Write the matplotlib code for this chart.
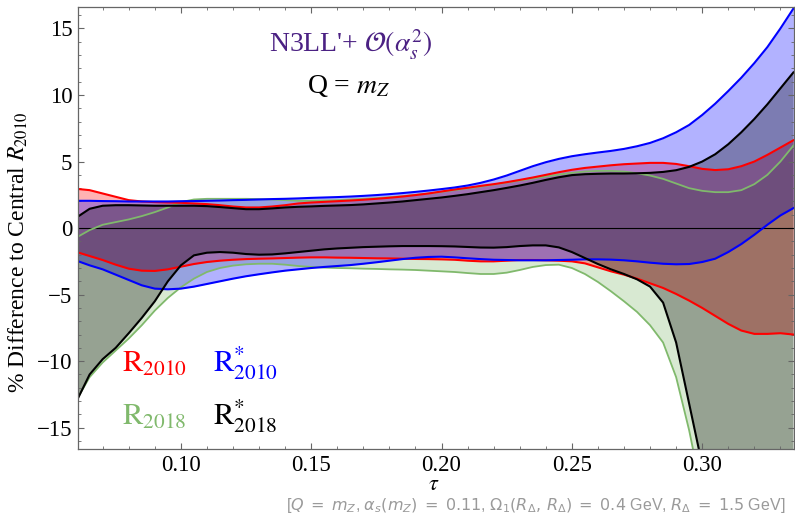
import numpy as np
import matplotlib
matplotlib.use("Agg")
import matplotlib.pyplot as plt
from matplotlib.ticker import MultipleLocator

plt.rcParams['font.family'] = ['Liberation Serif', 'DejaVu Serif']
plt.rcParams['mathtext.fontset'] = 'stix'

# tau grid, step 0.005
tau = np.round(np.arange(0.060, 0.3351, 0.005), 3)

# R2010 band (red)
r2010_hi = [2.95, 2.85, 2.6, 2.35, 2.1, 2.0, 1.95, 1.92, 1.9, 1.85,
            1.8, 1.72, 1.62, 1.55, 1.55, 1.62, 1.72, 1.85, 1.92, 1.97,
            2.02, 2.07, 2.13, 2.2, 2.28, 2.37, 2.48, 2.6, 2.75, 2.9,
            3.03, 3.17, 3.3, 3.45, 3.62, 3.8, 4.0, 4.2, 4.38, 4.52,
            4.62, 4.72, 4.8, 4.85, 4.9, 4.9, 4.82, 4.65, 4.45, 4.36,
            4.42, 4.65, 5.0, 5.5, 6.05, 6.6]
r2010_lo = [-1.8, -2.1, -2.4, -2.75, -3.05, -3.2, -3.22, -3.1, -2.9, -2.7,
            -2.55, -2.45, -2.38, -2.33, -2.3, -2.28, -2.25, -2.22, -2.2, -2.2,
            -2.22, -2.23, -2.25, -2.27, -2.28, -2.3, -2.32, -2.33, -2.35, -2.38,
            -2.45, -2.5, -2.5, -2.45, -2.4, -2.4, -2.42, -2.45, -2.5, -2.65,
            -2.95, -3.25, -3.5, -3.8, -4.15, -4.5, -4.95, -5.45, -6.0, -6.6,
            -7.2, -7.7, -7.95, -7.95, -7.9, -8.0]

# R*2010 band (blue)
rs2010_hi = [2.05, 2.05, 2.03, 2.02, 2.0, 2.0, 2.0, 2.0, 2.02, 2.03,
             2.05, 2.07, 2.1, 2.12, 2.15, 2.18, 2.2, 2.23, 2.27, 2.3,
             2.33, 2.37, 2.42, 2.48, 2.55, 2.63, 2.72, 2.82, 2.93, 3.05,
             3.2, 3.4, 3.65, 3.95, 4.3, 4.65, 4.95, 5.2, 5.4, 5.55,
             5.68, 5.8, 5.95, 6.15, 6.4, 6.75, 7.2, 7.75, 8.5, 9.35,
             10.3, 11.3, 12.4, 13.6, 15.0, 16.5]
rs2010_lo = [-2.45, -2.8, -3.1, -3.5, -3.9, -4.3, -4.55, -4.6, -4.55, -4.4,
             -4.2, -4.0, -3.8, -3.62, -3.47, -3.33, -3.2, -3.1, -3.0, -2.92,
             -2.85, -2.78, -2.68, -2.57, -2.45, -2.33, -2.23, -2.17, -2.15, -2.2,
             -2.27, -2.33, -2.38, -2.4, -2.42, -2.42, -2.42, -2.4, -2.38, -2.35,
             -2.35, -2.37, -2.42, -2.5, -2.6, -2.68, -2.72, -2.7, -2.55, -2.3,
             -1.8, -1.2, -0.5, 0.25, 0.95, 1.5]

# R2018 band (green)
r2018_hi = [-0.7, -0.15, 0.25, 0.45, 0.65, 0.9, 1.2, 1.55, 1.95, 2.15,
            2.2, 2.2, 2.2, 2.2, 2.18, 2.15, 2.1, 2.05, 2.05, 2.07,
            2.1, 2.15, 2.2, 2.25, 2.32, 2.4, 2.5, 2.6, 2.72, 2.85,
            2.98, 3.12, 3.27, 3.42, 3.57, 3.72, 3.88, 4.02, 4.15, 4.25,
            4.3, 4.3, 4.25, 4.12, 3.95, 3.7, 3.35, 3.0, 2.8, 2.7,
            2.7, 2.85, 3.3, 4.0, 5.0, 6.2]
r2018_lo = [-12.9, -11.2, -10.1, -9.2, -8.3, -7.3, -6.2, -5.25, -4.45, -3.8,
            -3.3, -3.0, -2.82, -2.72, -2.68, -2.68, -2.75, -2.85, -2.92, -2.97,
            -3.0, -3.02, -3.05, -3.07, -3.1, -3.12, -3.15, -3.2, -3.25, -3.3,
            -3.38, -3.45, -3.45, -3.35, -3.15, -2.92, -2.78, -2.75, -3.0, -3.45,
            -4.05, -4.75, -5.5, -6.3, -7.3, -8.6, -11.2, -15.2, -20.0, -25.0,
            -30.0, -36.0, -42.0, -48.0, -54.0, -60.0]

# R*2018 band (black)
rs2018_hi = [0.8, 1.45, 1.68, 1.72, 1.72, 1.7, 1.68, 1.68, 1.68, 1.68,
             1.65, 1.58, 1.5, 1.42, 1.42, 1.48, 1.55, 1.6, 1.63, 1.67,
             1.7, 1.73, 1.78, 1.85, 1.92, 2.0, 2.1, 2.2, 2.3, 2.42,
             2.55, 2.7, 2.85, 3.02, 3.2, 3.4, 3.62, 3.82, 3.98, 4.05,
             4.08, 4.1, 4.1, 4.12, 4.15, 4.22, 4.35, 4.6, 5.0, 5.55,
             6.3, 7.2, 8.2, 9.3, 10.5, 11.7]
rs2018_lo = [-13.0, -11.0, -9.85, -9.0, -7.9, -6.75, -5.5, -4.0, -2.8, -2.05,
             -1.85, -1.8, -1.85, -1.95, -2.0, -1.98, -1.9, -1.8, -1.7, -1.6,
             -1.53, -1.48, -1.43, -1.4, -1.37, -1.35, -1.35, -1.35, -1.36, -1.38,
             -1.42, -1.46, -1.47, -1.43, -1.35, -1.3, -1.3, -1.45, -1.8, -2.25,
             -2.7, -3.1, -3.45, -3.85, -4.4, -5.6, -8.6, -13.2, -17.8, -22.0,
             -26.0, -30.0, -34.0, -38.0, -42.0, -46.0]

red = '#ff0000'
blue = '#0000ff'
green = '#80b96c'
black = '#000000'

fig = plt.figure(figsize=(7.95, 5.14), dpi=100)
ax = fig.add_axes([0.098, 0.1265, 0.901, 0.8595])

# fills (order matters for the overlap colours)
bands = [(r2018_hi, r2018_lo, green, 1.3),
         (r2010_hi, r2010_lo, red, 1.5),
         (rs2010_hi, rs2010_lo, blue, 1.5),
         (rs2018_hi, rs2018_lo, black, 1.5)]
for hi, lo, c, lw in bands:
    ax.fill_between(tau, lo, hi, color=c, alpha=0.3, lw=0)
ax.axhline(0, color='black', lw=0.8)
for hi, lo, c, lw in bands:
    ax.plot(tau, hi, color=c, lw=lw)
    ax.plot(tau, lo, color=c, lw=lw)

ax.set_xlim(0.0605, 0.3353)
ax.set_ylim(-16.6, 16.6)
ax.xaxis.set_major_locator(MultipleLocator(0.05))
ax.xaxis.set_minor_locator(MultipleLocator(0.01))
ax.yaxis.set_major_locator(MultipleLocator(5))
ax.yaxis.set_minor_locator(MultipleLocator(1))
ax.xaxis.set_major_formatter(matplotlib.ticker.FormatStrFormatter('%.2f'))
ax.tick_params(which='both', direction='in', top=True, right=True,
               color='#666666', labelsize=16.5, labelcolor='black')
ax.tick_params(which='major', length=4.5, width=0.8, pad=4)
ax.tick_params(which='minor', length=2.5, width=0.6)
for s in ax.spines.values():
    s.set_color('#666666')
    s.set_linewidth(0.9)

# annotations
ax.text(0.1652, 13.2, r"N3LL'+ $\mathcal{O}(\alpha_s^2)$", color='#4b2183',
        fontsize=20, ha='center', va='baseline')
ax.text(0.1645, 10.15, r"Q = $m_Z$", color='black', fontsize=20,
        ha='center', va='baseline')
ax.text(0.0774, -10.8, r"$\mathrm{R}_{2010}$", color=red, fontsize=22, va='baseline')
ax.text(0.1123, -10.8, r"$\mathrm{R}^{*}_{2010}$", color=blue, fontsize=22, va='baseline')
ax.text(0.0774, -14.8, r"$\mathrm{R}_{2018}$", color=green, fontsize=22, va='baseline')
ax.text(0.1123, -14.8, r"$\mathrm{R}^{*}_{2018}$", color=black, fontsize=22, va='baseline')

fig.text(18 / 795, 1 - 252 / 514, r"% Difference to Central $R_{2010}$",
         rotation=90, ha='center', va='center', fontsize=17)
fig.text(434 / 795, 1 - 486 / 514, r"$\tau$", ha='center', va='center', fontsize=16)
fig.text(785 / 795, 1 - 510 / 514,
         r"[$Q\;=\;m_Z$, $\alpha_s(m_Z)\;=\;0.11$, $\Omega_1(R_\Delta,\,R_\Delta)\;=\;0.4$ GeV, $R_\Delta\;=\;1.5$ GeV]",
         ha='right', va='baseline', fontsize=11.5, color='#9a9a9a',
         family='Liberation Sans', math_fontfamily='dejavusans')

fig.savefig('out.png', dpi=100)
